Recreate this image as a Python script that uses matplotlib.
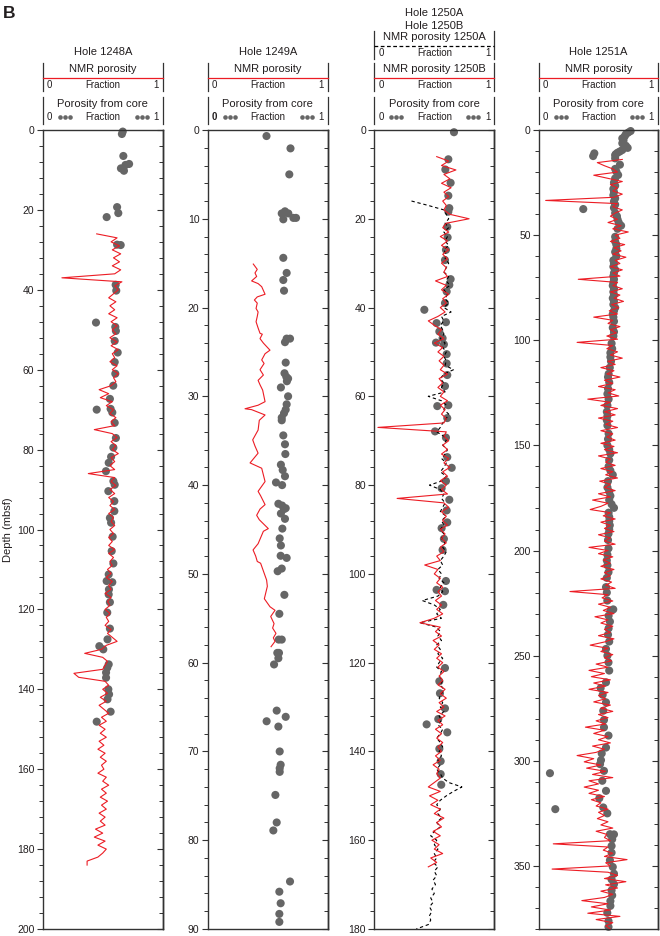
import numpy as np
import matplotlib.pyplot as plt
from matplotlib.lines import Line2D
from matplotlib.ticker import MultipleLocator

plt.rcParams['font.family'] = ['Liberation Sans', 'DejaVu Sans']

RED = '#ec1c24'
GRAY = '#666666'
INK = '#231f20'

# ---- Hole 1248A ----
core_1248_depth = [0.4, 1.0, 6.5, 8.5, 8.75, 9.6, 10.2, 19.3, 20.8, 21.8,
                   28.7, 28.8, 38.75, 40.2, 48.2, 49.3, 50.3, 52.8, 55.7, 58.1,
                   61.0, 64.0, 67.3, 69.8, 70.0, 70.7, 73.3, 77.1, 79.5, 81.8,
                   83.3, 85.4, 87.9, 88.8, 90.4, 92.9, 95.4, 97.1, 98.3, 101.8,
                   105.4, 108.5, 111.25, 112.9, 113.2, 115.0, 116.25, 118.2, 120.8, 124.8,
                   127.5, 129.2, 130.0, 133.75, 134.6, 135.8, 137.1, 140.0, 141.25, 142.5,
                   145.6, 148.1]
core_1248_por = [0.667, 0.66, 0.672, 0.72, 0.69, 0.652, 0.677, 0.62, 0.63, 0.533,
                 0.62, 0.65, 0.608, 0.613, 0.444, 0.605, 0.61, 0.6, 0.625, 0.6,
                 0.605, 0.588, 0.56, 0.566, 0.45, 0.58, 0.6, 0.61, 0.589, 0.57,
                 0.55, 0.527, 0.589, 0.6, 0.547, 0.597, 0.597, 0.56, 0.57, 0.583,
                 0.575, 0.589, 0.55, 0.533, 0.58, 0.552, 0.55, 0.56, 0.538, 0.56,
                 0.54, 0.472, 0.505, 0.55, 0.538, 0.528, 0.528, 0.547, 0.553, 0.54,
                 0.566, 0.45]
nmr_1248_top, nmr_1248_step = 26.0, 1.0
nmr_1248 = [0.45, 0.62, 0.57, 0.64, 0.58, 0.65, 0.59, 0.64, 0.58, 0.65,
            0.60, 0.16, 0.66, 0.60, 0.63, 0.59, 0.55, 0.61, 0.56, 0.60,
            0.55, 0.62, 0.57, 0.62, 0.58, 0.61, 0.56, 0.62, 0.57, 0.63,
            0.58, 0.60, 0.56, 0.62, 0.58, 0.63, 0.59, 0.61, 0.57, 0.47,
            0.55, 0.48, 0.58, 0.53, 0.59, 0.56, 0.61, 0.57, 0.60, 0.43,
            0.58, 0.62, 0.57, 0.61, 0.58, 0.63, 0.57, 0.60, 0.56, 0.60,
            0.38, 0.60, 0.57, 0.61, 0.56, 0.60, 0.55, 0.59, 0.56, 0.60,
            0.55, 0.59, 0.57, 0.60, 0.56, 0.59, 0.55, 0.58, 0.55, 0.60,
            0.55, 0.59, 0.56, 0.58, 0.54, 0.57, 0.53, 0.58, 0.55, 0.57,
            0.52, 0.57, 0.54, 0.56, 0.52, 0.56, 0.53, 0.55, 0.52, 0.57,
            0.54, 0.58, 0.62, 0.53, 0.49, 0.35, 0.50, 0.54, 0.52, 0.50,
            0.26, 0.30, 0.52, 0.55, 0.50, 0.54, 0.48, 0.53, 0.47, 0.51,
            0.55, 0.49, 0.53, 0.47, 0.52, 0.48, 0.53, 0.47, 0.51, 0.46,
            0.52, 0.48, 0.53, 0.49, 0.51, 0.46, 0.53, 0.50, 0.55, 0.49,
            0.53, 0.48, 0.54, 0.49, 0.53, 0.47, 0.52, 0.48, 0.52, 0.44,
            0.50, 0.43, 0.52, 0.46, 0.53, 0.50, 0.46, 0.37, 0.37]

# ---- Hole 1249A ----
core_1249_depth = [0.68, 2.07, 5.0, 9.16, 9.4, 9.4, 10.06, 9.9, 9.9, 14.4,
                   16.1, 16.9, 18.1, 23.5, 23.5, 23.9, 26.2, 27.4, 27.8, 28.0,
                   28.3, 29.0, 30.0, 30.9, 31.5, 31.9, 32.4, 32.7, 34.4, 35.4,
                   36.5, 37.7, 38.3, 39.0, 39.7, 40.0, 42.1, 42.3, 42.6, 42.7,
                   43.2, 43.8, 44.9, 46.0, 46.8, 47.96, 48.2, 49.4, 49.7, 52.36,
                   54.5, 57.4, 57.4, 58.9, 58.9, 59.5, 60.2, 65.4, 66.6, 66.1,
                   67.2, 70.0, 71.5, 71.9, 72.3, 74.9, 78.0, 78.9, 84.65, 85.8,
                   87.1, 88.3, 89.2]
core_1249_por = [0.49, 0.69, 0.68, 0.644, 0.617, 0.672, 0.63, 0.714, 0.736, 0.63,
                 0.658, 0.63, 0.636, 0.658, 0.686, 0.644, 0.65, 0.64, 0.655, 0.67,
                 0.66, 0.61, 0.67, 0.658, 0.65, 0.636, 0.617, 0.617, 0.63, 0.644,
                 0.647, 0.61, 0.625, 0.644, 0.569, 0.62, 0.589, 0.62, 0.65, 0.636,
                 0.61, 0.644, 0.622, 0.6, 0.61, 0.608, 0.658, 0.617, 0.583, 0.639,
                 0.597, 0.592, 0.617, 0.58, 0.594, 0.589, 0.553, 0.575, 0.491, 0.65,
                 0.589, 0.6, 0.608, 0.6, 0.6, 0.564, 0.575, 0.547, 0.686, 0.597,
                 0.608, 0.597, 0.597]
nmr_1249_depth = [15.1, 15.7, 16.1, 16.5, 17.0, 17.3, 17.65, 18.5, 18.8, 19.15,
                  19.5, 20.1, 20.5, 21.0, 21.6, 22.3, 22.9, 23.0, 23.5, 24.0,
                  24.8, 25.2, 25.9, 26.3, 27.0, 27.6, 28.2, 28.7, 29.3, 30.6,
                  31.0, 31.4, 31.5, 32.1, 32.7, 33.8, 34.9, 35.6, 36.4, 37.5,
                  38.1, 39.6, 40.7, 41.2, 42.2, 42.7, 43.4, 43.9, 44.9, 45.2,
                  46.6, 47.3, 48.0, 48.6, 48.8, 50.7, 51.4, 52.8, 53.7, 54.1,
                  54.8, 55.6, 56.1, 56.7, 57.2, 57.6, 58.2]
nmr_1249 = [0.38, 0.413, 0.394, 0.408, 0.366, 0.42, 0.45, 0.478, 0.413, 0.389,
            0.413, 0.403, 0.42, 0.413, 0.403, 0.42, 0.436, 0.455, 0.436, 0.464,
            0.519, 0.478, 0.45, 0.47, 0.436, 0.464, 0.42, 0.436, 0.458, 0.478,
            0.42, 0.311, 0.366, 0.478, 0.43, 0.42, 0.375, 0.394, 0.42, 0.353,
            0.45, 0.478, 0.42, 0.441, 0.478, 0.436, 0.408, 0.43, 0.505, 0.464,
            0.42, 0.378, 0.4, 0.413, 0.441, 0.491, 0.497, 0.472, 0.519, 0.561,
            0.525, 0.553, 0.541, 0.569, 0.547, 0.561, 0.528]

# ---- Holes 1250A / 1250B ----
core_1250_depth = [0.5, 6.6, 8.9, 11.9, 14.8, 17.6, 18.4, 21.8, 24.2, 27.0,
                   29.3, 33.6, 34.9, 36.4, 39.0, 40.5, 43.5, 43.3, 45.4, 46.9,
                   47.9, 48.3, 50.5, 52.6, 55.2, 57.7, 62.2, 62.0, 64.9, 67.9,
                   69.3, 73.7, 76.1, 79.1, 80.7, 83.3, 85.7, 88.4, 89.7, 92.1,
                   94.6, 101.6, 103.6, 103.9, 106.98, 121.2, 124.2, 126.9, 130.3, 132.7,
                   133.9, 135.7, 139.4, 142.2, 145.1, 147.5]
core_1250_por = [0.664, 0.617, 0.592, 0.636, 0.617, 0.625, 0.617, 0.608, 0.611, 0.597,
                 0.589, 0.636, 0.625, 0.603, 0.589, 0.417, 0.519, 0.597, 0.542, 0.569,
                 0.514, 0.58, 0.603, 0.603, 0.608, 0.589, 0.525, 0.617, 0.608, 0.506,
                 0.597, 0.608, 0.645, 0.597, 0.561, 0.625, 0.603, 0.608, 0.561, 0.58,
                 0.569, 0.597, 0.519, 0.589, 0.575, 0.589, 0.542, 0.547, 0.589, 0.533,
                 0.436, 0.608, 0.542, 0.553, 0.553, 0.558]
nmr_1250b_top, nmr_1250b_step = 6.0, 1.0
nmr_1250b = [0.52, 0.62, 0.56, 0.68, 0.58, 0.63, 0.56, 0.64, 0.58, 0.62,
             0.57, 0.60, 0.58, 0.63, 0.79, 0.60, 0.57, 0.62, 0.55, 0.61,
             0.56, 0.62, 0.57, 0.61, 0.56, 0.60, 0.58, 0.61, 0.51, 0.60,
             0.56, 0.62, 0.57, 0.60, 0.55, 0.59, 0.53, 0.45, 0.50, 0.56,
             0.53, 0.58, 0.50, 0.57, 0.53, 0.58, 0.54, 0.58, 0.55, 0.61,
             0.54, 0.57, 0.53, 0.58, 0.55, 0.61, 0.55, 0.59, 0.56, 0.60,
             0.58, 0.03, 0.60, 0.58, 0.62, 0.57, 0.61, 0.56, 0.62, 0.58,
             0.63, 0.57, 0.61, 0.55, 0.60, 0.56, 0.61, 0.19, 0.58, 0.62,
             0.56, 0.60, 0.57, 0.61, 0.55, 0.59, 0.56, 0.60, 0.55, 0.58,
             0.52, 0.55, 0.42, 0.53, 0.50, 0.55, 0.52, 0.57, 0.53, 0.56,
             0.51, 0.56, 0.52, 0.57, 0.50, 0.38, 0.55, 0.51, 0.56, 0.49,
             0.54, 0.50, 0.56, 0.52, 0.57, 0.53, 0.58, 0.54, 0.57, 0.53,
             0.59, 0.55, 0.60, 0.54, 0.58, 0.52, 0.59, 0.53, 0.57, 0.51,
             0.56, 0.52, 0.57, 0.53, 0.56, 0.51, 0.55, 0.49, 0.54, 0.52,
             0.55, 0.50, 0.45, 0.55, 0.46, 0.53, 0.47, 0.55, 0.50, 0.58,
             0.52, 0.56, 0.49, 0.55, 0.48, 0.54, 0.50, 0.57, 0.47, 0.52,
             0.45]
nmr_1250a_top, nmr_1250a_step = 16.0, 1.0
nmr_1250a = [0.31, 0.45, 0.58, 0.60, 0.62, 0.59, 0.62, 0.58, 0.61, 0.59,
             0.62, 0.58, 0.60, 0.59, 0.62, 0.60, 0.58, 0.62, 0.60, 0.63,
             0.58, 0.61, 0.59, 0.62, 0.58, 0.64, 0.56, 0.58, 0.55, 0.57,
             0.58, 0.55, 0.59, 0.57, 0.60, 0.58, 0.60, 0.59, 0.66, 0.58,
             0.55, 0.58, 0.56, 0.59, 0.45, 0.56, 0.60, 0.58, 0.62, 0.60,
             0.57, 0.55, 0.52, 0.58, 0.60, 0.57, 0.61, 0.59, 0.56, 0.60,
             0.58, 0.55, 0.60, 0.57, 0.46, 0.55, 0.58, 0.56, 0.59, 0.57,
             0.55, 0.60, 0.56, 0.58, 0.55, 0.58, 0.56, 0.59, 0.57, 0.60,
             0.58, 0.55, 0.57, 0.53, 0.56, 0.54, 0.58, 0.55, 0.57, 0.53,
             0.40, 0.50, 0.55, 0.52, 0.56, 0.38, 0.52, 0.55, 0.53, 0.56,
             0.52, 0.55, 0.53, 0.57, 0.54, 0.52, 0.56, 0.54, 0.57, 0.55,
             0.58, 0.56, 0.54, 0.57, 0.55, 0.58, 0.54, 0.56, 0.53, 0.57,
             0.55, 0.52, 0.55, 0.57, 0.54, 0.56, 0.53, 0.55, 0.52, 0.55,
             0.57, 0.62, 0.73, 0.66, 0.60, 0.55, 0.52, 0.55, 0.53, 0.56,
             0.52, 0.55, 0.50, 0.47, 0.52, 0.50, 0.53, 0.50, 0.52, 0.49,
             0.53, 0.50, 0.52, 0.49, 0.51, 0.48, 0.50, 0.47, 0.49, 0.46,
             0.48, 0.46, 0.47, 0.45, 0.35]

# ---- Hole 1251A ----
core_1251_depth = [0.5, 1.2, 2.0, 3.0, 4.0, 5.0, 6.3, 7.5, 8.5, 9.5,
                   10.2, 10.8, 11.5, 12.0, 11.1, 12.4, 13.5, 16.5, 18.5, 19.8,
                   21.4, 23.0, 25.0, 26.5, 28.0, 29.5, 31.0, 32.5, 34.0, 35.5,
                   37.0, 37.6, 39.5, 41.0, 42.5, 44.0, 45.5, 47.0, 50.8, 53.0,
                   54.5, 56.5, 58.0, 60.0, 62.0, 63.5, 65.0, 66.5, 68.0, 69.5,
                   71.0, 72.5, 74.0, 75.5, 77.0, 78.5, 80.0, 81.5, 83.0, 84.5,
                   86.0, 87.5, 89.0, 91.0, 94.0, 96.0, 98.0, 101.5, 104.0, 106.0,
                   108.0, 110.0, 113.0, 116.0, 117.5, 120.0, 123.0, 125.5, 128.0, 131.0,
                   134.0, 136.0, 138.0, 140.5, 144.4, 147.0, 150.0, 152.0, 153.9, 157.0,
                   160.0, 162.0, 164.0, 167.0, 170.0, 172.0, 174.0, 176.0, 178.0, 179.7,
                   182.0, 184.0, 186.0, 188.0, 190.0, 192.0, 195.0, 199.0, 202.0, 204.7,
                   207.0, 210.3, 213.0, 217.4, 220.0, 223.8, 228.0, 228.5, 231.0, 233.8,
                   237.0, 240.0, 243.3, 246.8, 250.0, 253.2, 257.1, 262.7, 265.4, 268.6,
                   272.2, 276.2, 280.6, 284.1, 288.0, 293.7, 296.5, 299.7, 301.6, 304.8,
                   305.9, 309.5, 314.3, 317.8, 322.2, 323.0, 325.0, 334.9, 335.0, 337.3,
                   340.5, 343.7, 347.3, 350.5, 353.7, 356.4, 358.7, 361.6, 364.0, 366.7,
                   369.0, 372.3, 376.2, 379.0]
core_1251_por = [0.77, 0.75, 0.73, 0.72, 0.70, 0.71, 0.70, 0.73, 0.745, 0.70,
                 0.68, 0.66, 0.645, 0.64, 0.465, 0.455, 0.64, 0.68, 0.64, 0.65,
                 0.665, 0.64, 0.63, 0.64, 0.625, 0.63, 0.625, 0.64, 0.63, 0.64,
                 0.63, 0.372, 0.64, 0.655, 0.66, 0.67, 0.69, 0.66, 0.64, 0.64,
                 0.65, 0.65, 0.64, 0.65, 0.625, 0.63, 0.625, 0.64, 0.63, 0.625,
                 0.63, 0.625, 0.62, 0.63, 0.625, 0.63, 0.62, 0.63, 0.625, 0.64,
                 0.63, 0.62, 0.625, 0.63, 0.62, 0.63, 0.625, 0.61, 0.615, 0.60,
                 0.60, 0.605, 0.595, 0.585, 0.58, 0.59, 0.58, 0.575, 0.585, 0.575,
                 0.57, 0.575, 0.57, 0.575, 0.585, 0.58, 0.575, 0.59, 0.60, 0.59,
                 0.585, 0.60, 0.62, 0.58, 0.575, 0.59, 0.60, 0.59, 0.61, 0.63,
                 0.585, 0.59, 0.59, 0.595, 0.59, 0.584, 0.58, 0.584, 0.575, 0.57,
                 0.575, 0.584, 0.57, 0.563, 0.57, 0.574, 0.624, 0.60, 0.585, 0.596,
                 0.585, 0.58, 0.59, 0.563, 0.575, 0.584, 0.59, 0.563, 0.518, 0.535,
                 0.563, 0.54, 0.546, 0.546, 0.584, 0.563, 0.527, 0.521, 0.513, 0.546,
                 0.092, 0.532, 0.563, 0.507, 0.54, 0.137, 0.574, 0.596, 0.63, 0.615,
                 0.61, 0.61, 0.596, 0.62, 0.63, 0.61, 0.63, 0.61, 0.615, 0.60,
                 0.60, 0.574, 0.584, 0.584]
nmr_1251_top, nmr_1251_step = 14.0, 1.5
nmr_1251 = [0.70, 0.49, 0.55, 0.62, 0.66, 0.46, 0.58, 0.70, 0.60, 0.66,
            0.62, 0.70, 0.63, 0.056, 0.66, 0.62, 0.70, 0.64, 0.60, 0.66,
            0.58, 0.69, 0.62, 0.75, 0.64, 0.68, 0.60, 0.72, 0.63, 0.69,
            0.62, 0.73, 0.64, 0.68, 0.60, 0.70, 0.62, 0.68, 0.33, 0.66,
            0.62, 0.70, 0.60, 0.68, 0.63, 0.71, 0.61, 0.67, 0.59, 0.66,
            0.46, 0.62, 0.58, 0.68, 0.60, 0.65, 0.57, 0.66, 0.32, 0.62,
            0.57, 0.66, 0.60, 0.70, 0.58, 0.64, 0.52, 0.63, 0.57, 0.68,
            0.55, 0.62, 0.50, 0.64, 0.58, 0.67, 0.41, 0.60, 0.52, 0.66,
            0.55, 0.64, 0.50, 0.62, 0.56, 0.66, 0.52, 0.62, 0.57, 0.64,
            0.52, 0.63, 0.55, 0.66, 0.50, 0.60, 0.56, 0.64, 0.52, 0.62,
            0.56, 0.66, 0.51, 0.60, 0.55, 0.64, 0.50, 0.60, 0.45, 0.58,
            0.52, 0.43, 0.60, 0.54, 0.64, 0.52, 0.60, 0.55, 0.63, 0.50,
            0.60, 0.55, 0.64, 0.42, 0.58, 0.50, 0.62, 0.54, 0.60, 0.52,
            0.63, 0.55, 0.60, 0.52, 0.61, 0.56, 0.64, 0.26, 0.58, 0.53,
            0.62, 0.50, 0.60, 0.54, 0.63, 0.47, 0.58, 0.52, 0.62, 0.55,
            0.60, 0.50, 0.63, 0.55, 0.43, 0.58, 0.52, 0.62, 0.55, 0.61,
            0.48, 0.58, 0.42, 0.55, 0.44, 0.60, 0.46, 0.56, 0.42, 0.58,
            0.50, 0.56, 0.46, 0.60, 0.52, 0.62, 0.50, 0.58, 0.48, 0.56,
            0.39, 0.55, 0.46, 0.58, 0.50, 0.60, 0.45, 0.55, 0.48, 0.32,
            0.46, 0.38, 0.52, 0.40, 0.56, 0.45, 0.62, 0.42, 0.50, 0.38,
            0.50, 0.42, 0.55, 0.44, 0.52, 0.48, 0.58, 0.50, 0.55, 0.49,
            0.58, 0.52, 0.62, 0.48, 0.57, 0.55, 0.60, 0.12, 0.58, 0.54,
            0.62, 0.55, 0.74, 0.56, 0.60, 0.11, 0.58, 0.66, 0.55, 0.73,
            0.56, 0.66, 0.52, 0.62, 0.55, 0.36, 0.58, 0.44, 0.60, 0.41,
            0.68, 0.48, 0.62, 0.56, 0.60]


def log_depths(top, step, values):
    return top + step * np.arange(len(values))


W, H = 660, 936
fig = plt.figure(figsize=(W / 100, H / 100), dpi=100)


def fx(px):
    return px / W


def fy(py):
    return 1 - py / H


AX_TOP, AX_BOT = 130, 929


def make_axes(x0, x1, ymax, major, minor):
    ax = fig.add_axes([fx(x0), fy(AX_BOT), fx(x1) - fx(x0), (AX_BOT - AX_TOP) / H])
    ax.set_xlim(0, 1)
    ax.set_ylim(ymax, 0)
    ax.set_xticks([])
    for s in ax.spines.values():
        s.set_linewidth(1.0)
        s.set_color('#333333')
    ax.yaxis.set_major_locator(MultipleLocator(major))
    ax.yaxis.set_minor_locator(MultipleLocator(minor))
    ax.tick_params(axis='y', which='major', length=4, width=0.8, labelsize=7.5,
                   direction='out', colors='#333333', labelcolor=INK, pad=2)
    ax.tick_params(axis='y', which='minor', length=3, width=0.7,
                   direction='out', colors='#333333')
    sec = ax.secondary_yaxis('right')
    sec.yaxis.set_major_locator(MultipleLocator(major))
    sec.yaxis.set_minor_locator(MultipleLocator(minor))
    sec.tick_params(which='major', direction='in', length=4, width=0.8,
                    labelright=False, colors='#333333')
    sec.tick_params(which='minor', direction='in', length=3, width=0.7,
                    colors='#333333')
    sec.spines['right'].set_linewidth(1.0)
    return ax


def vbar(x, y0, y1):
    fig.add_artist(Line2D([fx(x), fx(x)], [fy(y0), fy(y1)], color='#333333', lw=0.9))


def nmr_box(x0, x1, top, name, color, ls):
    vbar(x0, top, top + 28)
    vbar(x1, top, top + 28)
    xc = (x0 + x1) / 2
    fig.text(fx(xc), fy(top + 6), name, ha='center', va='center', fontsize=8, color=INK)
    fig.add_artist(Line2D([fx(x0), fx(x1)], [fy(top + 15)] * 2, color=color, lw=0.9, ls=ls))
    fig.text(fx(x0 + 4), fy(top + 22), '0', ha='left', va='center', fontsize=7, color=INK)
    fig.text(fx(xc), fy(top + 22), 'Fraction', ha='center', va='center', fontsize=7, color=INK)
    fig.text(fx(x1 - 4), fy(top + 22), '1', ha='right', va='center', fontsize=7, color=INK)


def core_box(x0, x1, bold_zero=False):
    top = 97
    vbar(x0, top, top + 27)
    vbar(x1, top, top + 27)
    xc = (x0 + x1) / 2
    fig.text(fx(xc), fy(top + 7), 'Porosity from core', ha='center', va='center',
             fontsize=8, color=INK)
    row = top + 20
    fig.text(fx(x0 + 4), fy(row), '0', ha='left', va='center', fontsize=7, color=INK,
             fontweight='bold' if bold_zero else 'normal')
    fig.text(fx(xc), fy(row), 'Fraction', ha='center', va='center', fontsize=7, color=INK)
    fig.text(fx(x1 - 4), fy(row), '1', ha='right', va='center', fontsize=7, color=INK)
    for xs in ([x0 + 17, x0 + 22, x0 + 27], [x1 - 26, x1 - 21, x1 - 16]):
        fig.add_artist(Line2D([fx(v) for v in xs], [fy(row)] * 3, ls='none', marker='o',
                              ms=3.3, color=GRAY, mec='none'))


def plot_core(ax, depth, por):
    ax.scatter(por, depth, s=34, color=GRAY, edgecolors='none', zorder=2, clip_on=False)


# panel 1: Hole 1248A
x0, x1 = 42.7, 162.7
ax1 = make_axes(x0, x1, 200, 20, 4)
plot_core(ax1, core_1248_depth, core_1248_por)
ax1.plot(nmr_1248, log_depths(nmr_1248_top, nmr_1248_step, nmr_1248), color=RED, lw=0.8, zorder=3)
fig.text(fx((x0 + x1) / 2), fy(52), 'Hole 1248A', ha='center', va='center', fontsize=8, color=INK)
nmr_box(x0, x1, 63, 'NMR porosity', RED, '-')
core_box(x0, x1)

# panel 2: Hole 1249A
x0, x1 = 207.7, 327.7
ax2 = make_axes(x0, x1, 90, 10, 2)
plot_core(ax2, core_1249_depth, core_1249_por)
ax2.plot(nmr_1249, nmr_1249_depth, color=RED, lw=0.8, zorder=3)
fig.text(fx((x0 + x1) / 2), fy(52), 'Hole 1249A', ha='center', va='center', fontsize=8, color=INK)
nmr_box(x0, x1, 63, 'NMR porosity', RED, '-')
core_box(x0, x1, bold_zero=True)

# panel 3: Holes 1250A / 1250B
x0, x1 = 374.3, 494.3
ax3 = make_axes(x0, x1, 180, 20, 4)
plot_core(ax3, core_1250_depth, core_1250_por)
ax3.plot(nmr_1250a, log_depths(nmr_1250a_top, nmr_1250a_step, nmr_1250a), color='black',
         lw=0.8, ls=(0, (3, 2.5)), zorder=3)
ax3.plot(nmr_1250b, log_depths(nmr_1250b_top, nmr_1250b_step, nmr_1250b), color=RED, lw=0.8, zorder=4)
fig.text(fx((x0 + x1) / 2), fy(13), 'Hole 1250A', ha='center', va='center', fontsize=8, color=INK)
fig.text(fx((x0 + x1) / 2), fy(26), 'Hole 1250B', ha='center', va='center', fontsize=8, color=INK)
nmr_box(x0, x1, 31, 'NMR porosity 1250A', 'black', (0, (3, 2)))
nmr_box(x0, x1, 63, 'NMR porosity 1250B', RED, '-')
core_box(x0, x1)

# panel 4: Hole 1251A
x0, x1 = 539.0, 658.0
ax4 = make_axes(x0, x1, 380, 50, 10)
plot_core(ax4, core_1251_depth, core_1251_por)
ax4.plot(nmr_1251, log_depths(nmr_1251_top, nmr_1251_step, nmr_1251), color=RED, lw=0.8, zorder=3)
fig.text(fx((x0 + x1) / 2), fy(52), 'Hole 1251A', ha='center', va='center', fontsize=8, color=INK)
nmr_box(x0, x1, 63, 'NMR porosity', RED, '-')
core_box(x0, x1)

fig.text(fx(8), fy((AX_TOP + AX_BOT) / 2), 'Depth (mbsf)', rotation=90, ha='center',
         va='center', fontsize=8, color=INK)
fig.text(fx(3), fy(18), 'B', ha='left', va='baseline', fontsize=12.5, fontweight='bold', color=INK)

fig.savefig('out.png', dpi=100)
